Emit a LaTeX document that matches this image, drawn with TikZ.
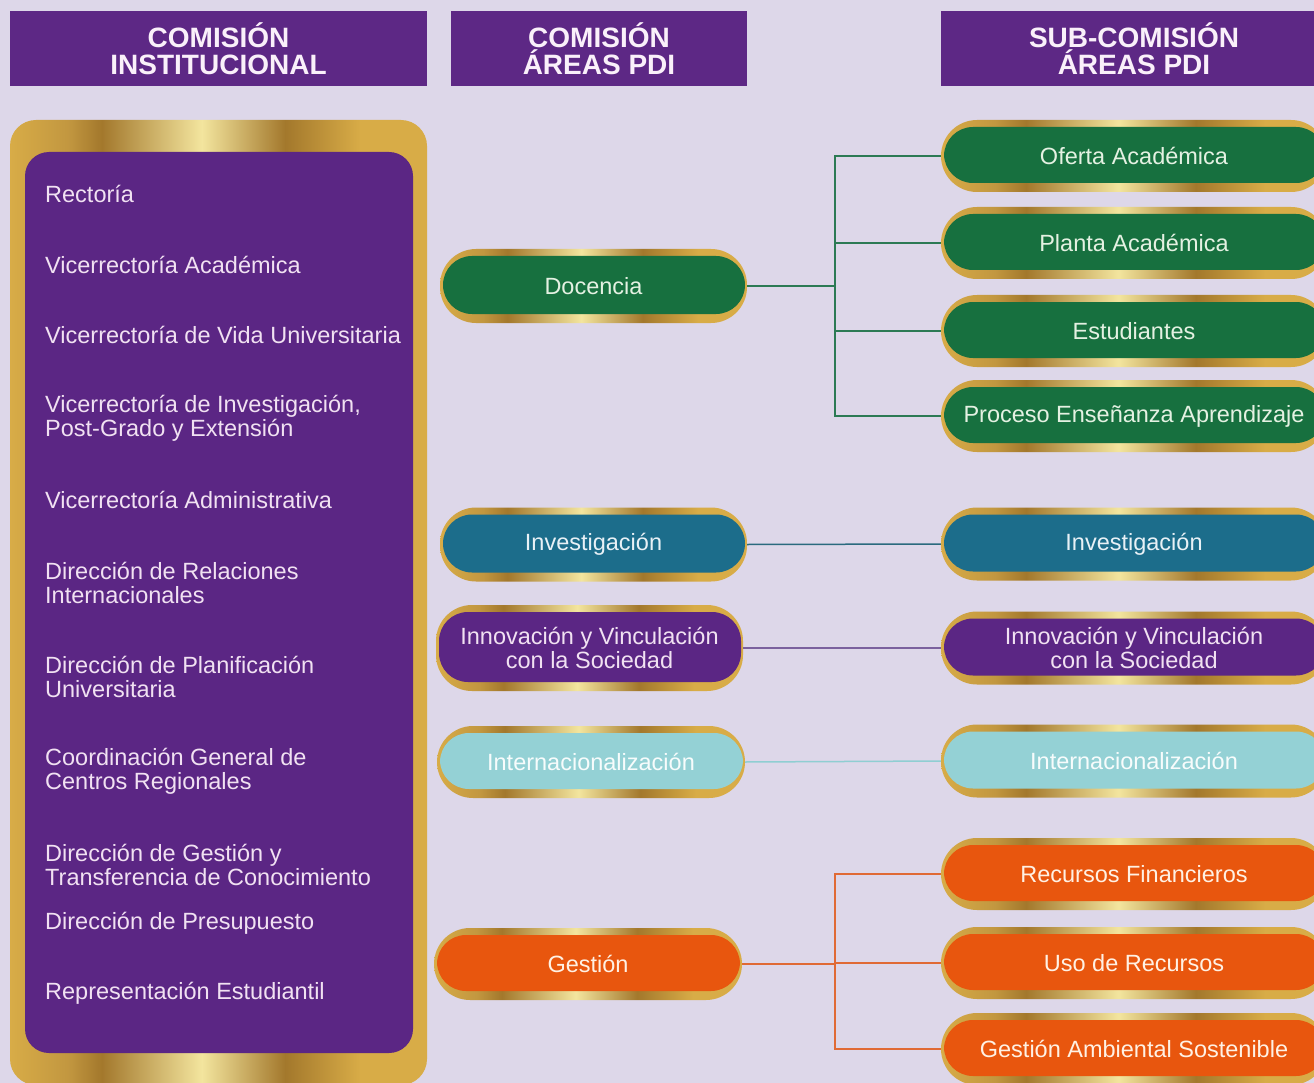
\documentclass[tikz,border=0pt]{standalone}
\usepackage{fontspec}
\setmainfont{Liberation Sans}
\usetikzlibrary{calc}
\definecolor{bgc}{HTML}{DDD7E9}
\definecolor{hdrc}{HTML}{5D2885}
\definecolor{purc}{HTML}{5B2684}
\definecolor{grnc}{HTML}{17703F}
\definecolor{tealc}{HTML}{1C6D8B}
\definecolor{cync}{HTML}{94D1D5}
\definecolor{orgc}{HTML}{E8560E}
\definecolor{goldA}{HTML}{D8AC47}
\definecolor{goldM}{HTML}{C29740}
\definecolor{goldD}{HTML}{A3782C}
\definecolor{goldL}{HTML}{F3E59E}
\definecolor{hdrtxt}{HTML}{FAF0FA}
\definecolor{ptxt}{HTML}{F1E1F2}
\definecolor{gtxt}{HTML}{E4F1E2}
\definecolor{ttxt}{HTML}{E8F1F6}
\definecolor{ctxt}{HTML}{F7FCFC}
\definecolor{otxt}{HTML}{FFF1E4}
\definecolor{lgrn}{HTML}{2C7A54}
\definecolor{lteal}{HTML}{2A6A7E}
\definecolor{lpur}{HTML}{7B619E}
\definecolor{lcyn}{HTML}{8FCED2}
\definecolor{lorg}{HTML}{E06A35}
\pgfdeclarehorizontalshading{goldbar}{100bp}{color(0bp)=(goldA); color(25bp)=(goldA); color(32bp)=(goldM); color(36bp)=(goldD); color(48bp)=(goldL); color(58bp)=(goldD); color(67bp)=(goldA); color(75bp)=(goldA); color(100bp)=(goldA)}
\begin{document}
\begin{tikzpicture}[x=1pt,y=-1pt,
  hdr/.style={rectangle, fill=hdrc, minimum height=75pt, inner sep=0pt, text=hdrtxt,
    font=\bfseries\fontsize{28}{27}\selectfont, align=center},
  item/.style={anchor=west, align=left, inner sep=0pt, text=ptxt, font=\fontsize{23.5}{24}\selectfont},
  pill/.style={rectangle, inner sep=0pt, minimum height=74pt, rounded corners=36pt,
    shading=goldbar, align=center, font=\fontsize{23.5}{24}\selectfont,
    path picture={\fill[#1, rounded corners=29pt]
      ($(path picture bounding box.north west)+(3pt,-7pt)$) rectangle
      ($(path picture bounding box.south east)+(-2pt,9pt)$);}},
  pgrn/.style={pill=grnc, text=gtxt},
  pteal/.style={pill=tealc, text=ttxt},
  ppur/.style={pill=purc, text=ptxt},
  pcyn/.style={pill=cync, text=ctxt},
  porg/.style={pill=orgc, text=otxt},
  rpill/.style={minimum width=386pt, minimum height=72pt},
  conn/.style={line width=1.5pt}
]
\useasboundingbox (0,0) rectangle (1314,1083);
\fill[bgc] (0,0) rectangle (1314,1083);

% headers
\node[hdr, minimum width=417pt] (h1) at (218.5,48.5) {COMISIÓN\\INSTITUCIONAL};
\node[hdr, minimum width=296pt] (h2) at (599,49) {COMISIÓN\\ÁREAS PDI};
\node[hdr, minimum width=386pt] (h3) at (1134,49) {SUB-COMISIÓN\\ÁREAS PDI};

% left panel
\node[rectangle, rounded corners=26pt, shading=goldbar, minimum width=417pt, minimum height=965pt, inner sep=0pt] (panel) at (218.5,602.5) {};
\node[rectangle, rounded corners=24pt, fill=purc, minimum width=388pt, minimum height=901pt, inner sep=0pt] (inner) at (219,602.5) {};

\node[item] (i1) at (45,194) {Rectoría};
\node[item] (i2) at (45,265) {Vicerrectoría Académica};
\node[item] (i3) at (45,335) {Vicerrectoría de Vida Universitaria};
\node[item] (i4) at (45,418) {Vicerrectoría de Investigación,\\Post-Grado y Extensión};
\node[item] (i5) at (45,500) {Vicerrectoría Administrativa};
\node[item] (i6) at (45,583) {Dirección de Relaciones\\Internacionales};
\node[item] (i7) at (45,677) {Dirección de Planificación\\Universitaria};
\node[item] (i8) at (45,771) {Coordinación General de\\Centros Regionales};
\node[item] (i9) at (45,865) {Dirección de Gestión y\\Transferencia de Conocimiento};
\node[item] (i10) at (45,923) {Dirección de Presupuesto};
\node[item] (i11) at (45,993) {Representación Estudiantil};

% middle pills
\node[pgrn, minimum width=307pt] (doc) at (593.5,286) {Docencia};
\node[pteal, minimum width=307pt] (inv) at (593.5,544.5) {Investigación};
\node[ppur, minimum width=307pt, minimum height=86pt] (inn) at (589.5,648) {Innovación y Vinculación\\con la Sociedad};
\node[pcyn, minimum width=308pt, minimum height=72pt] (intl) at (591,762) {Internacionalización};
\node[porg, minimum width=308pt, minimum height=72pt] (ges) at (588,964) {Gestión};

% right pills
\node[pgrn, rpill] (ofe) at (1134,156) {Oferta Académica};
\node[pgrn, rpill] (pla) at (1134,243) {Planta Académica};
\node[pgrn, rpill] (est) at (1134,331) {Estudiantes};
\node[pgrn, rpill] (pro) at (1134,416) {Proceso Enseñanza Aprendizaje};
\node[pteal, rpill, minimum height=73pt] (inv2) at (1134,544) {Investigación};
\node[ppur, rpill, minimum height=73pt] (inn2) at (1134,648) {Innovación y Vinculación\\con la Sociedad};
\node[pcyn, rpill, minimum height=73pt] (int2) at (1134,761) {Internacionalización};
\node[porg, rpill] (rf) at (1134,874) {Recursos Financieros};
\node[porg, rpill] (uso) at (1134,963) {Uso de Recursos};
\node[porg, rpill] (gas) at (1134,1049) {Gestión Ambiental Sostenible};

% connectors
\coordinate (dj) at (835,0);
\draw[conn, lgrn] (doc.east) -- (doc.east -| dj) |- (ofe.west);
\draw[conn, lgrn] (doc.east -| dj) |- (pla.west);
\draw[conn, lgrn] (doc.east -| dj) |- (est.west);
\draw[conn, lgrn] (doc.east -| dj) |- (pro.west);
\draw[conn, lteal] (inv.east) -- (inv2.west);
\draw[conn, lpur] (inn.east) -- (inn2.west);
\draw[conn, lcyn] (intl.east) -- (int2.west);
\draw[conn, lorg] (ges.east) -- (ges.east -| dj) |- (rf.west);
\draw[conn, lorg] (ges.east -| dj) |- (uso.west);
\draw[conn, lorg] (ges.east -| dj) |- (gas.west);
\end{tikzpicture}
\end{document}
